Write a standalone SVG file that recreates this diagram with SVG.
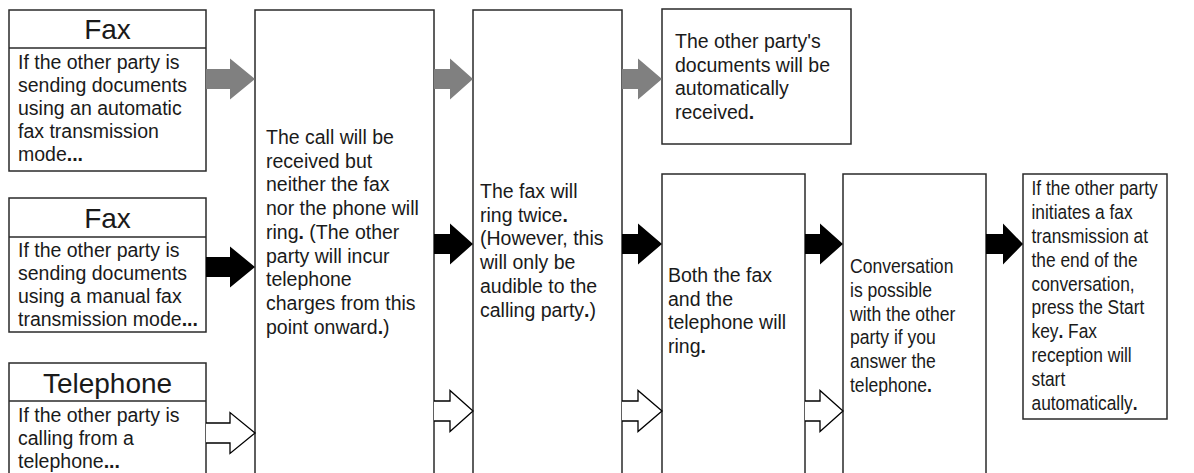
<svg xmlns="http://www.w3.org/2000/svg" width="1194" height="473" viewBox="0 0 1194 473">
<style>
.box{fill:#fff;stroke:#2a2a2a;stroke-width:1.5}
.sep{stroke:#2a2a2a;stroke-width:1.5}
.t{font-family:"Liberation Sans",Arial,sans-serif;font-size:19.5px;fill:#1a1a1a}
.h{font-family:"Liberation Sans",Arial,sans-serif;font-size:28px;fill:#1a1a1a;text-anchor:middle}
.b{font-weight:bold}
.ag{fill:#808080;stroke:none}
.ab{fill:#000;stroke:none}
.aw{fill:#fff;stroke:#000;stroke-width:1.3}
</style>
<rect width="1194" height="473" fill="#fff"/>

<g id="node-fax-auto">
<rect class="box" x="9" y="10" width="197" height="161"/>
<line class="sep" x1="9" y1="48" x2="206" y2="48"/>
<text class="h" x="107.5" y="39">Fax</text>
<text class="t" x="18" y="69">If the other party is</text>
<text class="t" x="18" y="92">sending documents</text>
<text class="t" x="18" y="115">using an automatic</text>
<text class="t" x="18" y="138">fax transmission</text>
<text class="t" x="18" y="161">mode<tspan class="b">...</tspan></text>
</g>

<g id="node-fax-manual">
<rect class="box" x="9" y="198" width="197" height="134"/>
<line class="sep" x1="9" y1="237" x2="206" y2="237"/>
<text class="h" x="107.5" y="228">Fax</text>
<text class="t" x="18" y="257">If the other party is</text>
<text class="t" x="18" y="280">sending documents</text>
<text class="t" x="18" y="303">using a manual fax</text>
<text class="t" x="18" y="326">transmission mode<tspan class="b">...</tspan></text>
</g>

<g id="node-telephone">
<rect class="box" x="9" y="363" width="197" height="130"/>
<line class="sep" x1="9" y1="401" x2="206" y2="401"/>
<text class="h" x="107.5" y="393">Telephone</text>
<text class="t" x="18" y="422">If the other party is</text>
<text class="t" x="18" y="445">calling from a</text>
<text class="t" x="18" y="468">telephone<tspan class="b">...</tspan></text>
</g>

<g id="node-call-received">
<rect class="box" x="255" y="10" width="179" height="480"/>
<text class="t" x="266" y="144">The call will be</text>
<text class="t" x="266" y="167.7">received but</text>
<text class="t" x="266" y="191.4">neither the fax</text>
<text class="t" x="266" y="215.1">nor the phone will</text>
<text class="t" x="266" y="238.8">ring<tspan class="b">.</tspan> (The other</text>
<text class="t" x="266" y="262.5">party will incur</text>
<text class="t" x="266" y="286.2">telephone</text>
<text class="t" x="266" y="309.9">charges from this</text>
<text class="t" x="266" y="333.6">point onward<tspan class="b">.</tspan>)</text>
</g>

<g id="node-fax-rings">
<rect class="box" x="473" y="10" width="149" height="480"/>
<text class="t" x="480" y="198">The fax will</text>
<text class="t" x="480" y="221.7">ring twice<tspan class="b">.</tspan></text>
<text class="t" x="480" y="245.4">(However, this</text>
<text class="t" x="480" y="269.1">will only be</text>
<text class="t" x="480" y="292.8">audible to the</text>
<text class="t" x="480" y="316.5">calling party<tspan class="b">.</tspan>)</text>
</g>

<g id="node-auto-received">
<rect class="box" x="662" y="9" width="189" height="135"/>
<text class="t" x="675" y="48">The other party's</text>
<text class="t" x="675" y="71.7">documents will be</text>
<text class="t" x="675" y="95.4">automatically</text>
<text class="t" x="675" y="119.1">received<tspan class="b">.</tspan></text>
</g>

<g id="node-both-ring">
<rect class="box" x="662" y="174" width="143" height="320"/>
<text class="t" x="668" y="282">Both the fax</text>
<text class="t" x="668" y="305.7">and the</text>
<text class="t" x="668" y="329.4">telephone will</text>
<text class="t" x="668" y="353.1">ring<tspan class="b">.</tspan></text>
</g>

<g id="node-conversation">
<rect class="box" x="843" y="174" width="143" height="320"/>
<g transform="translate(850,0) scale(0.9,1)">
<text class="t" x="0" y="273">Conversation</text>
<text class="t" x="0" y="296.8">is possible</text>
<text class="t" x="0" y="320.6">with the other</text>
<text class="t" x="0" y="344.4">party if you</text>
<text class="t" x="0" y="368.2">answer the</text>
<text class="t" x="0" y="392">telephone<tspan class="b">.</tspan></text>
</g>
</g>

<g id="node-start-key">
<rect class="box" x="1023" y="174" width="144" height="245"/>
<g transform="translate(1031.5,0) scale(0.89,1)">
<text class="t" x="0" y="195">If the other party</text>
<text class="t" x="0" y="218.9">initiates a fax</text>
<text class="t" x="0" y="242.8">transmission at</text>
<text class="t" x="0" y="266.7">the end of the</text>
<text class="t" x="0" y="290.6">conversation,</text>
<text class="t" x="0" y="314.5">press the Start</text>
<text class="t" x="0" y="338.4">key<tspan class="b">.</tspan> Fax</text>
<text class="t" x="0" y="362.3">reception will</text>
<text class="t" x="0" y="386.2">start</text>
<text class="t" x="0" y="410.1">automatically<tspan class="b">.</tspan></text>
</g>
</g>

<g id="connectors">
<!-- column 1 -->
<path class="ag" d="M206 69 H230 V58.5 L255 79 L230 99.5 V89 H206 Z"/>
<path class="ab" d="M206 257 H230 V246.5 L255 267 L230 287.5 V277 H206 Z"/>
<path class="aw" d="M206 423 H230 V412.5 L255 433 L230 453.5 V443 H206"/>
<!-- column 2 -->
<path class="ag" d="M434 69 H450 V58.5 L473 79 L450 99.5 V89 H434 Z"/>
<path class="ab" d="M434 234 H450 V223.5 L473 244 L450 264.5 V254 H434 Z"/>
<path class="aw" d="M434 401 H450 V390.5 L473 411 L450 431.5 V421 H434"/>
<!-- column 3 -->
<path class="ag" d="M622 69 H638 V58.5 L662 79 L638 99.5 V89 H622 Z"/>
<path class="ab" d="M622 234 H638 V223.5 L662 244 L638 264.5 V254 H622 Z"/>
<path class="aw" d="M622 401 H638 V390.5 L662 411 L638 431.5 V421 H622"/>
<!-- column 4 -->
<path class="ab" d="M805 234 H820 V223.5 L843 244 L820 264.5 V254 H805 Z"/>
<path class="aw" d="M805 401 H820 V390.5 L843 411 L820 431.5 V421 H805"/>
<!-- column 5 -->
<path class="ab" d="M986 234 H1003 V223.5 L1023 244 L1003 264.5 V254 H986 Z"/>
</g>
</svg>
